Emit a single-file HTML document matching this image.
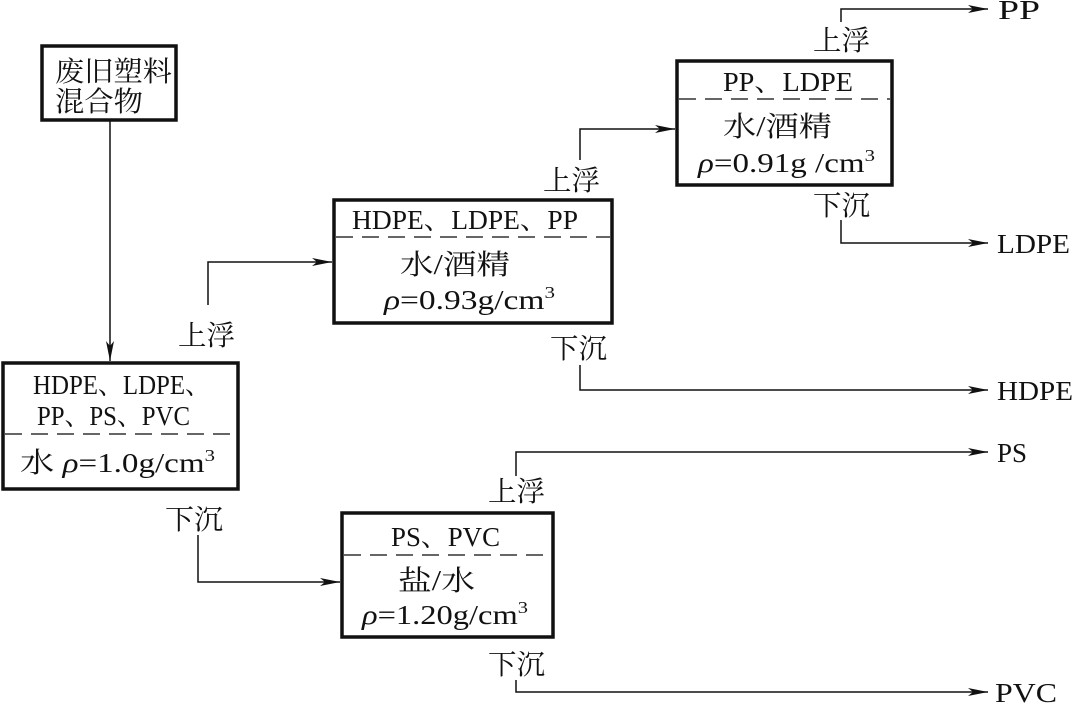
<!DOCTYPE html>
<html><head><meta charset="utf-8"><style>
html,body{margin:0;padding:0;background:#fff}
svg{display:block}
text{font-family:"Liberation Serif","Noto Serif CJK SC","Noto Sans CJK SC",serif;fill:#111}
.c{font-size:28px}
.l{font-size:27px}
</style></head><body>
<svg width="1074" height="706" viewBox="0 0 1074 706" xmlns="http://www.w3.org/2000/svg">
<defs><marker id="a" markerWidth="22" markerHeight="8" refX="20" refY="4" orient="auto" markerUnits="userSpaceOnUse"><path d="M0,0 L20,4 L0,8 L5,4 z" fill="#111"/></marker></defs>
<g fill="none" stroke="#111" stroke-width="3.5">
<rect x="42" y="46" width="134" height="74"/>
<rect x="3" y="363" width="235" height="126"/>
<rect x="334" y="200" width="278" height="123"/>
<rect x="677" y="61" width="215" height="124"/>
<rect x="342" y="513" width="211" height="124"/>
</g>
<g fill="none" stroke="#333" stroke-width="1.6" stroke-dasharray="17,9">
<line x1="5" y1="434" x2="236" y2="434"/>
<line x1="336" y1="237" x2="610" y2="237"/>
<line x1="679" y1="99" x2="890" y2="99"/>
<line x1="344" y1="555" x2="551" y2="555"/>
</g>
<g fill="none" stroke="#111" stroke-width="1.5" marker-end="url(#a)">
<path d="M110 120 V361"/>
<path d="M208 305 V262 H332"/>
<path d="M198 535 V582 H340"/>
<path d="M580 160 V129 H675"/>
<path d="M580 365 V390 H988"/>
<path d="M841 22 V9 H988"/>
<path d="M841 220 V243 H988"/>
<path d="M516 476 V452 H988"/>
<path d="M516 680 V692 H988"/>
</g>
<g class="c" lengthAdjust="spacingAndGlyphs">
<text x="55" y="81" textLength="117" lengthAdjust="spacingAndGlyphs">废旧塑料</text>
<text x="55" y="111" textLength="88" lengthAdjust="spacingAndGlyphs">混合物</text>
<text x="178" y="345" textLength="57" lengthAdjust="spacingAndGlyphs">上浮</text>
<text x="165" y="529" textLength="58" lengthAdjust="spacingAndGlyphs">下沉</text>
<text x="543" y="190" textLength="57" lengthAdjust="spacingAndGlyphs">上浮</text>
<text x="550" y="358" textLength="57" lengthAdjust="spacingAndGlyphs">下沉</text>
<text x="813" y="50" textLength="57" lengthAdjust="spacingAndGlyphs">上浮</text>
<text x="813" y="215" textLength="57" lengthAdjust="spacingAndGlyphs">下沉</text>
<text x="488" y="501" textLength="57" lengthAdjust="spacingAndGlyphs">上浮</text>
<text x="488" y="674" textLength="57" lengthAdjust="spacingAndGlyphs">下沉</text>
<text x="400" y="274" textLength="110" lengthAdjust="spacingAndGlyphs">水/酒精</text>
<text x="723" y="136" textLength="109" lengthAdjust="spacingAndGlyphs">水/酒精</text>
<text x="398" y="590" textLength="77" lengthAdjust="spacingAndGlyphs">盐/水</text>
</g>
<g class="l">
<text x="33" y="394" textLength="177" lengthAdjust="spacingAndGlyphs">HDPE、LDPE、</text>
<text x="37" y="425" textLength="153" lengthAdjust="spacingAndGlyphs">PP、PS、PVC</text>
<text x="20" y="472" textLength="195" lengthAdjust="spacingAndGlyphs"><tspan class="c">水</tspan> <tspan font-style="italic">ρ</tspan>=1.0g/cm<tspan font-size="17" dy="-11">3</tspan></text>
<text x="352" y="229" textLength="226" lengthAdjust="spacingAndGlyphs">HDPE、LDPE、PP</text>
<text x="384" y="309" textLength="171" lengthAdjust="spacingAndGlyphs"><tspan font-style="italic">ρ</tspan>=0.93g/cm<tspan font-size="17" dy="-11">3</tspan></text>
<text x="723" y="91" textLength="130" lengthAdjust="spacingAndGlyphs">PP、LDPE</text>
<text x="698" y="172" textLength="177" lengthAdjust="spacingAndGlyphs"><tspan font-style="italic">ρ</tspan>=0.91g /cm<tspan font-size="17" dy="-11">3</tspan></text>
<text x="391" y="546" textLength="109" lengthAdjust="spacingAndGlyphs">PS、PVC</text>
<text x="362" y="624" textLength="166" lengthAdjust="spacingAndGlyphs"><tspan font-style="italic">ρ</tspan>=1.20g/cm<tspan font-size="17" dy="-11">3</tspan></text>
<text x="998" y="19" textLength="42" lengthAdjust="spacingAndGlyphs">PP</text>
<text x="997" y="253" textLength="73" lengthAdjust="spacingAndGlyphs">LDPE</text>
<text x="997" y="400" textLength="76" lengthAdjust="spacingAndGlyphs">HDPE</text>
<text x="997" y="462" textLength="30" lengthAdjust="spacingAndGlyphs">PS</text>
<text x="995" y="702" textLength="62" lengthAdjust="spacingAndGlyphs">PVC</text>
</g>
</svg>
</body></html>
